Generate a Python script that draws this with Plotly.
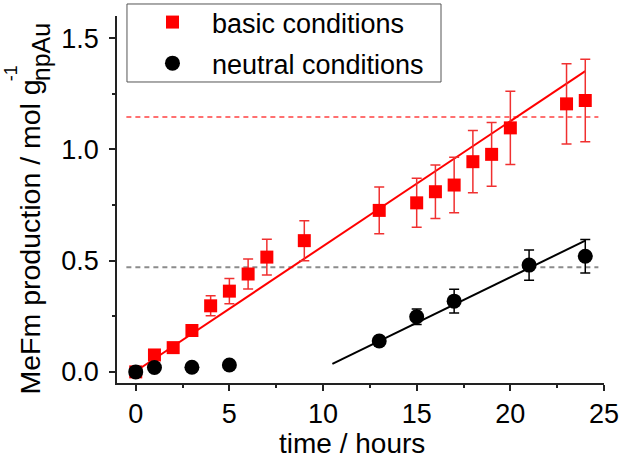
import plotly.graph_objects as go

# ---- data ----
basic_t = [0, 1, 2, 3, 4, 5, 6, 7, 9, 13, 15, 16, 17, 18, 19, 20, 23, 24]
basic_y = [0.0, 0.076, 0.109, 0.186, 0.297, 0.363, 0.44, 0.516, 0.59, 0.726,
           0.76, 0.81, 0.84, 0.945, 0.978, 1.097, 1.205, 1.22]
basic_err = [0.01, 0.02, 0.015, 0.02, 0.045, 0.057, 0.067, 0.08, 0.09, 0.105,
             0.11, 0.12, 0.125, 0.14, 0.143, 0.165, 0.18, 0.185]

neutral_t = [0, 1, 3, 5, 13, 15, 17, 21, 24]
neutral_y = [0.0, 0.02, 0.021, 0.031, 0.139, 0.248, 0.318, 0.48, 0.52]
neutral_err = [0.005, 0.005, 0.005, 0.005, 0.02, 0.035, 0.053, 0.068, 0.075]

fit_basic_t = [0, 24]
fit_basic_y = [0.003, 1.352]
fit_neutral_t = [10.5, 24]
fit_neutral_y = [0.036, 0.59]

ref_span_t = [-0.5, 24.7]
basic_ref_level = 1.146
neutral_ref_level = 0.47

x_ticks = [0, 5, 10, 15, 20, 25]
y_ticks = [0.0, 0.5, 1.0, 1.5]
y_tick_labels = ["0.0", "0.5", "1.0", "1.5"]

FONT = "Liberation Sans, Arial, sans-serif"
RED = "#ff0000"

fig = go.Figure()

# reference dotted lines
fig.add_trace(go.Scatter(x=ref_span_t, y=[basic_ref_level] * 2, mode="lines",
                         line=dict(color="#ff7070", width=2, dash="5px,4px"),
                         showlegend=False, hoverinfo="skip"))
fig.add_trace(go.Scatter(x=ref_span_t, y=[neutral_ref_level] * 2, mode="lines",
                         line=dict(color="#8c8c8c", width=2, dash="5px,4px"),
                         showlegend=False, hoverinfo="skip"))
# fit lines
fig.add_trace(go.Scatter(x=fit_basic_t, y=fit_basic_y, mode="lines",
                         line=dict(color=RED, width=2), showlegend=False))
fig.add_trace(go.Scatter(x=fit_neutral_t, y=fit_neutral_y, mode="lines",
                         line=dict(color="black", width=2), showlegend=False))

fig.add_trace(go.Scatter(
    x=basic_t, y=basic_y, mode="markers", name="basic conditions",
    legendgroup="b",
    marker=dict(symbol="square", size=13, color=RED),
    error_y=dict(type="data", array=basic_err, visible=True,
                 color="#f03030", thickness=1.5, width=5)))
fig.add_trace(go.Scatter(
    x=neutral_t, y=neutral_y, mode="markers", name="neutral conditions",
    legendgroup="n",
    marker=dict(symbol="circle", size=15, color="black"),
    error_y=dict(type="data", array=neutral_err, visible=True,
                 color="black", thickness=1.5, width=5)))

axis_common = dict(showline=True, linecolor="#222", linewidth=1.5,
                   ticks="outside", ticklen=6, tickwidth=1.5, tickcolor="#222",
                   showgrid=False, zeroline=False, mirror=False, automargin=False,
                   tickfont=dict(family=FONT, size=27, color="black"))

fig.update_xaxes(range=[-1, 25], tickvals=x_ticks,
                 minor=dict(ticks="outside", ticklen=3, dtick=2.5, tick0=0,
                            tickcolor="#222", tickwidth=1.5),
                 **axis_common)
fig.update_yaxes(range=[-0.05, 1.6], tickvals=y_ticks, ticktext=y_tick_labels,
                 ticklabelstandoff=5,
                 minor=dict(ticks="outside", ticklen=3, dtick=0.25, tick0=0,
                            tickcolor="#222", tickwidth=1.5),
                 **axis_common)

# axis titles
fig.add_annotation(text="time / hours", xref="paper", yref="paper",
                   x=0.4825, y=-0.165, showarrow=False, xanchor="center", yanchor="middle",
                   font=dict(family=FONT, size=28, color="black"))
fig.add_annotation(text="MeFm production / mol g",
                   xref="paper", yref="paper", x=-0.1786, y=0.3965,
                   textangle=-90, showarrow=False, xanchor="center", yanchor="middle",
                   font=dict(family=FONT, size=28.5, color="black"))
fig.add_annotation(text="npAu", xref="paper", yref="paper", x=-0.1556, y=0.902,
                   textangle=-90, showarrow=False, xanchor="center", yanchor="middle",
                   font=dict(family=FONT, size=25, color="black"))
fig.add_annotation(text="-1", xref="paper", yref="paper", x=-0.2183, y=0.843,
                   textangle=-90, showarrow=False, xanchor="center", yanchor="middle",
                   font=dict(family=FONT, size=18, color="black"))

# legend frame
fig.add_shape(type="rect", xref="paper", yref="paper",
              x0=0.0205, x1=0.6653, y0=0.8202, y1=1.0327,
              line=dict(color="#555", width=1), fillcolor="rgba(0,0,0,0)")

fig.update_layout(
    width=626, height=458,
    margin=dict(l=117, r=22, t=16, b=75, autoexpand=False),
    plot_bgcolor="white", paper_bgcolor="white",
    legend=dict(x=0.0205, y=1.049, xanchor="left", yanchor="top",
                bgcolor="rgba(0,0,0,0)", borderwidth=0,
                font=dict(family=FONT, size=27, color="black"),
                itemwidth=69, indentation=6, traceorder="grouped",
                tracegroupgap=3),
)

fig.write_html("out.html", config={"displayModeBar": False},
               post_script="document.body.style.margin='0';")
